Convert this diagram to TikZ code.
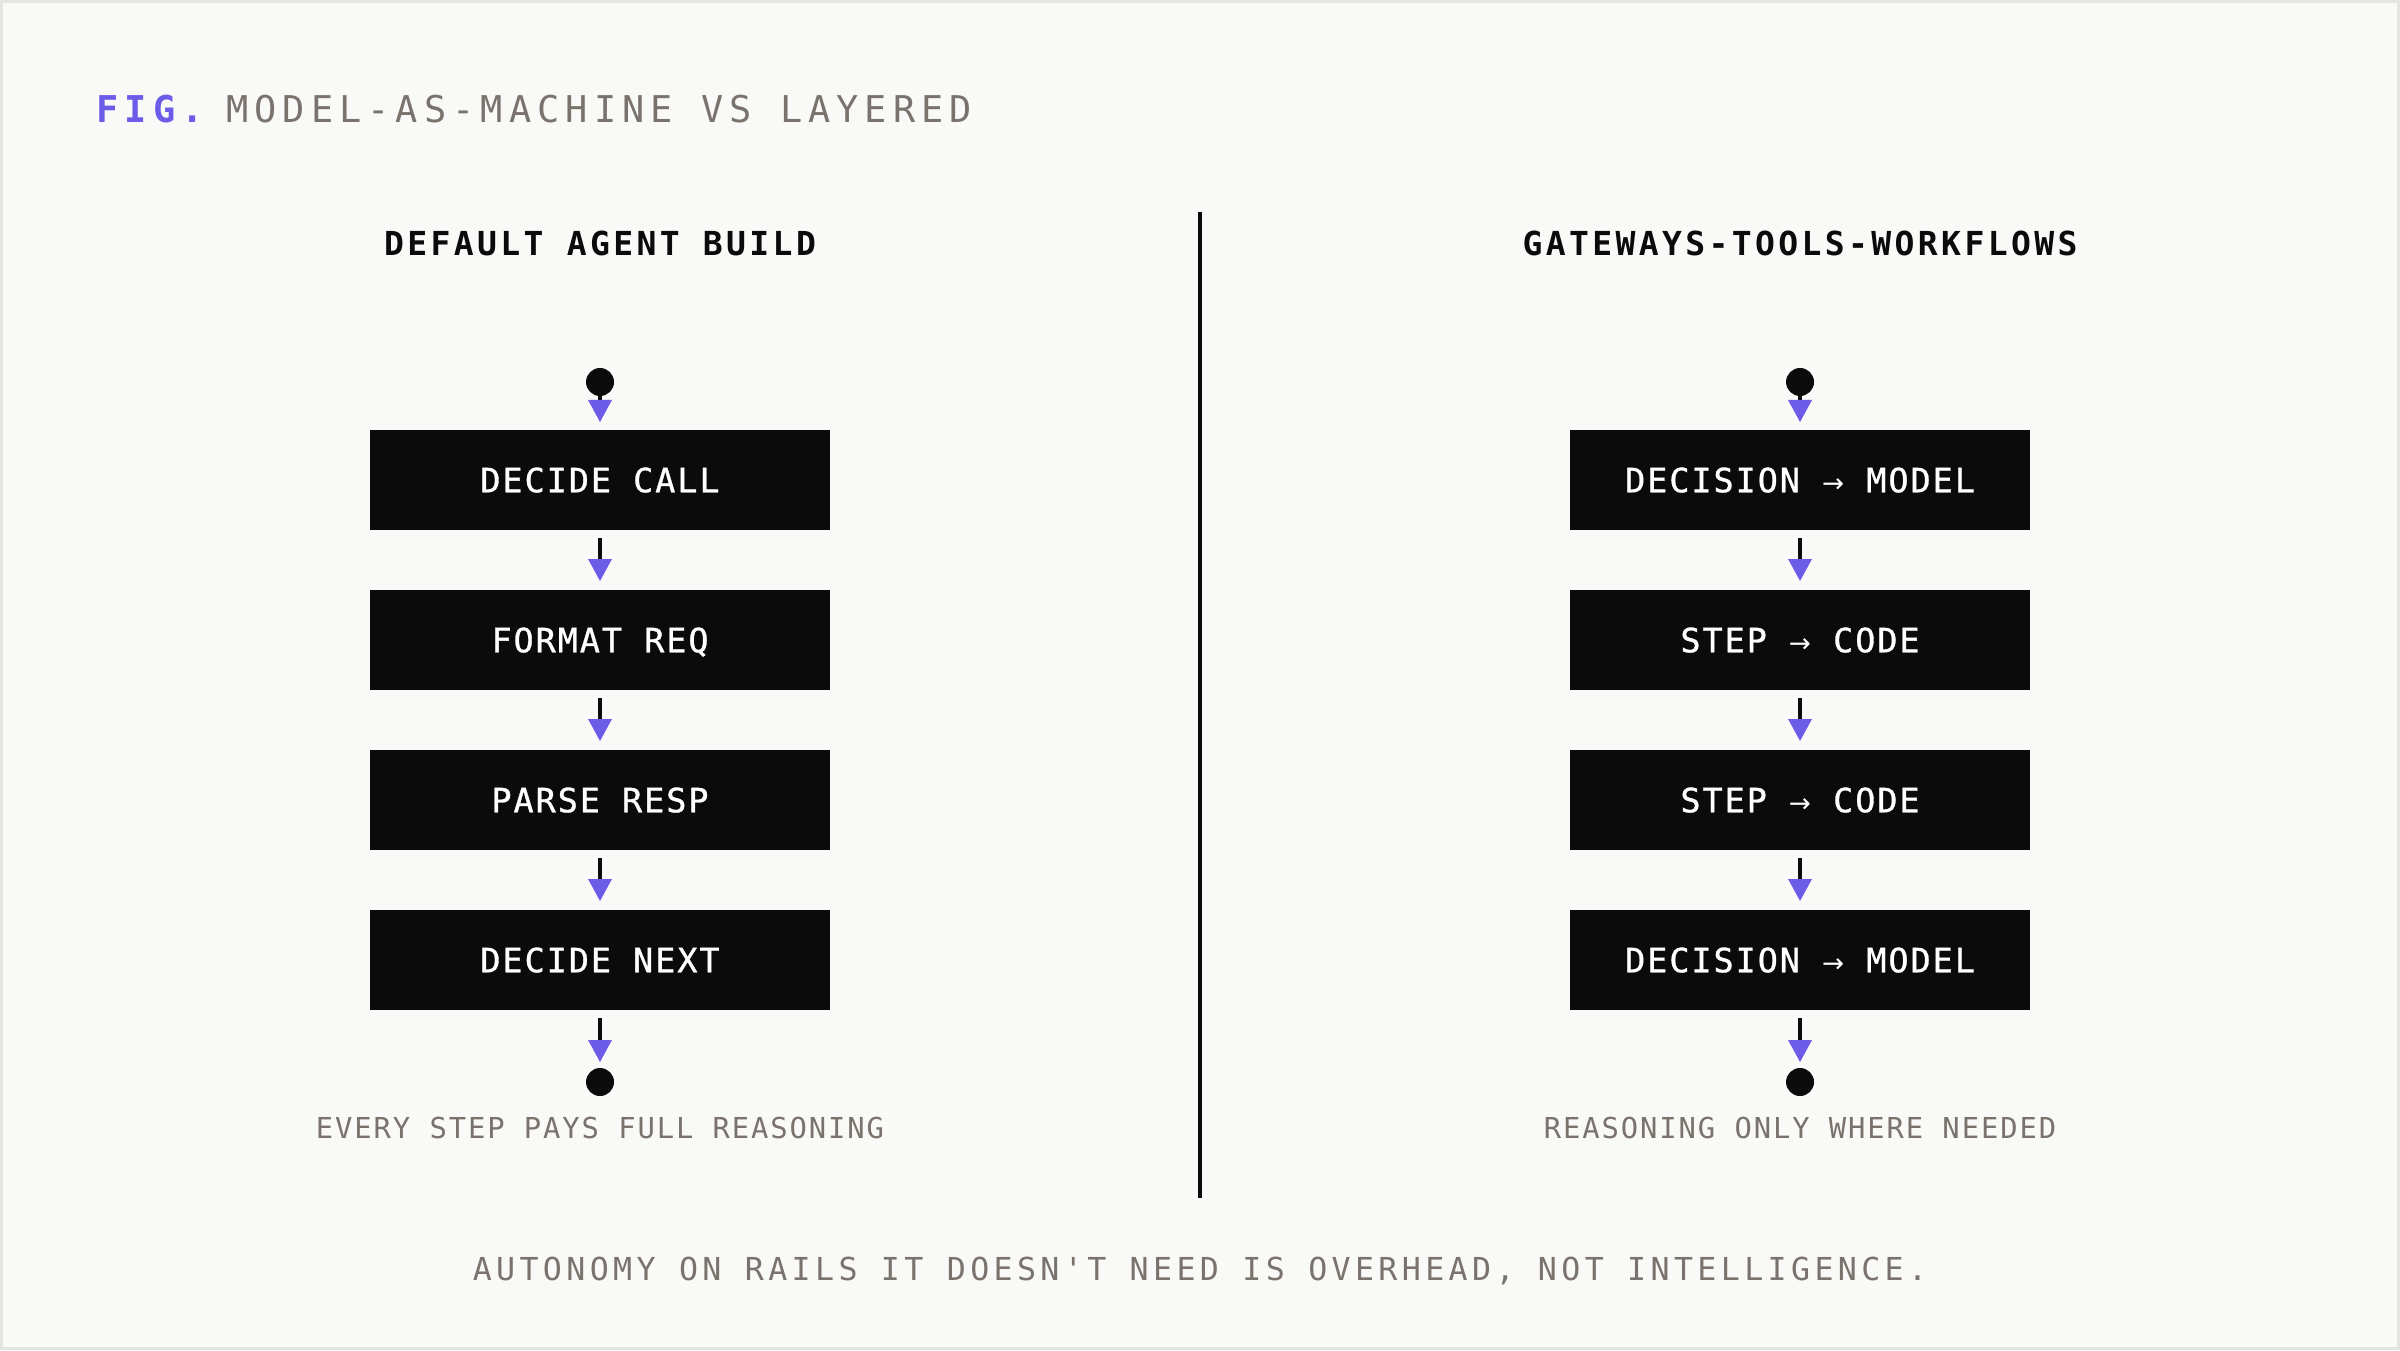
\documentclass[tikz,border=0pt]{standalone}
\usepackage{fontspec}
\usetikzlibrary{positioning, arrows.meta}

\newfontfamily\titlefont[LetterSpace=16.5]{DejaVu Sans Mono}
\newfontfamily\headfont[LetterSpace=10.2]{DejaVu Sans Mono}
\newfontfamily\boxfont[LetterSpace=6, FakeBold=1]{DejaVu Sans Mono}
\newfontfamily\capfont[LetterSpace=6.6]{DejaVu Sans Mono}
\newfontfamily\footfont[LetterSpace=13.8]{DejaVu Sans Mono}
\newfontfamily\arrowfont{DejaVu Sans}
\newcommand\flowarrow{\makebox[0.662em]{\arrowfont\fontsize{7.5}{9}\selectfont →}}

\definecolor{paper}{HTML}{F9F9F7}
\definecolor{frame}{HTML}{E4E4E2}
\definecolor{ink}{HTML}{0B0B0B}
\definecolor{purp}{HTML}{6C5CE7}
\definecolor{mute}{HTML}{7A736D}

\begin{document}
\begin{tikzpicture}[
		stepbox/.style={fill=ink, text=white, minimum width=4.6cm, minimum height=1cm, inner sep=0pt, outer sep=0pt,
			font=\boxfont\fontsize{9.5}{11}\selectfont, text height=0.245cm, text depth=0pt},
		dot/.style={circle, fill=ink, minimum size=0.28cm, inner sep=0pt, outer sep=0pt},
		flow/.style={draw=ink, line width=0.04cm,
			-{Triangle[width=0.24cm, length=0.22cm, line width=0pt, color=purp]}},
		colhead/.style={inner sep=0pt, outer sep=0pt, anchor=south, text=ink, font=\headfont\bfseries\fontsize{9.4}{11}\selectfont,
			text height=0.24cm, text depth=0pt},
		caption/.style={inner sep=0pt, outer sep=0pt, text=mute, font=\capfont\fontsize{8.2}{10}\selectfont,
			text height=0.21cm, text depth=0pt}
	]
	% Canvas
	\useasboundingbox (0,0) rectangle (24,13.5);
	\fill[paper] (0,0) rectangle (24,13.5);
	\draw[frame, line width=0.03cm] (0.015,0.015) rectangle (23.985,13.485);
	
	% Title
	\node[anchor=base west, inner sep=0pt, text=mute, font=\titlefont\fontsize{10.5}{12}\selectfont] (title) at (0.96,12.27)
		{{\color{purp}\bfseries FIG.}\kern-0.06cm{} MODEL-AS-MACHINE VS LAYERED};
	
	% Left column
	\node[colhead] (headL) at (6,10.94) {DEFAULT AGENT BUILD};
	\node[dot, below=1.12cm of headL] (startL) {};
	\node[stepbox, below=0.34cm of startL] (decL) {DECIDE CALL};
	\node[stepbox, below=0.6cm of decL] (fmtL) {FORMAT REQ};
	\node[stepbox, below=0.6cm of fmtL] (parseL) {PARSE RESP};
	\node[stepbox, below=0.6cm of parseL] (nextL) {DECIDE NEXT};
	\node[dot, below=0.58cm of nextL] (endL) {};
	\node[caption, below=0.21cm of endL] (capL) {EVERY STEP PAYS FULL REASONING};
	
	% Right column
	\node[colhead] (headR) at (18,10.94) {GATEWAYS-TOOLS-WORKFLOWS};
	\node[dot, below=1.12cm of headR] (startR) {};
	\node[stepbox, below=0.34cm of startR] (decR) {DECISION \flowarrow{} MODEL};
	\node[stepbox, below=0.6cm of decR] (stepR) {STEP \flowarrow{} CODE};
	\node[stepbox, below=0.6cm of stepR] (step2R) {STEP \flowarrow{} CODE};
	\node[stepbox, below=0.6cm of step2R] (dec2R) {DECISION \flowarrow{} MODEL};
	\node[dot, below=0.58cm of dec2R] (endR) {};
	\node[caption, below=0.21cm of endR] (capR) {REASONING ONLY WHERE NEEDED};
	
	% Arrows
	\draw[flow, shorten >=0.08cm] (startL) -- (decL);
	\draw[flow, shorten <=0.08cm, shorten >=0.09cm] (decL) -- (fmtL);
	\draw[flow, shorten <=0.08cm, shorten >=0.09cm] (fmtL) -- (parseL);
	\draw[flow, shorten <=0.08cm, shorten >=0.09cm] (parseL) -- (nextL);
	\draw[flow, shorten <=0.08cm, shorten >=0.06cm] (nextL) -- (endL);
	
	\draw[flow, shorten >=0.08cm] (startR) -- (decR);
	\draw[flow, shorten <=0.08cm, shorten >=0.09cm] (decR) -- (stepR);
	\draw[flow, shorten <=0.08cm, shorten >=0.09cm] (stepR) -- (step2R);
	\draw[flow, shorten <=0.08cm, shorten >=0.09cm] (step2R) -- (dec2R);
	\draw[flow, shorten <=0.08cm, shorten >=0.06cm] (dec2R) -- (endR);
	
	% Divider
	\coordinate (divTop) at (12,11.38);
	\coordinate (divBot) at (12,1.52);
	\draw[ink, line width=0.045cm] (divTop) -- (divBot);
	
	% Footer
	\node[anchor=base, inner sep=0pt, text=mute, font=\footfont\fontsize{9}{11}\selectfont] (foot) at (12,0.7)
		{AUTONOMY ON RAILS IT DOESN'T NEED IS OVERHEAD, NOT INTELLIGENCE.};
\end{tikzpicture}
\end{document}
